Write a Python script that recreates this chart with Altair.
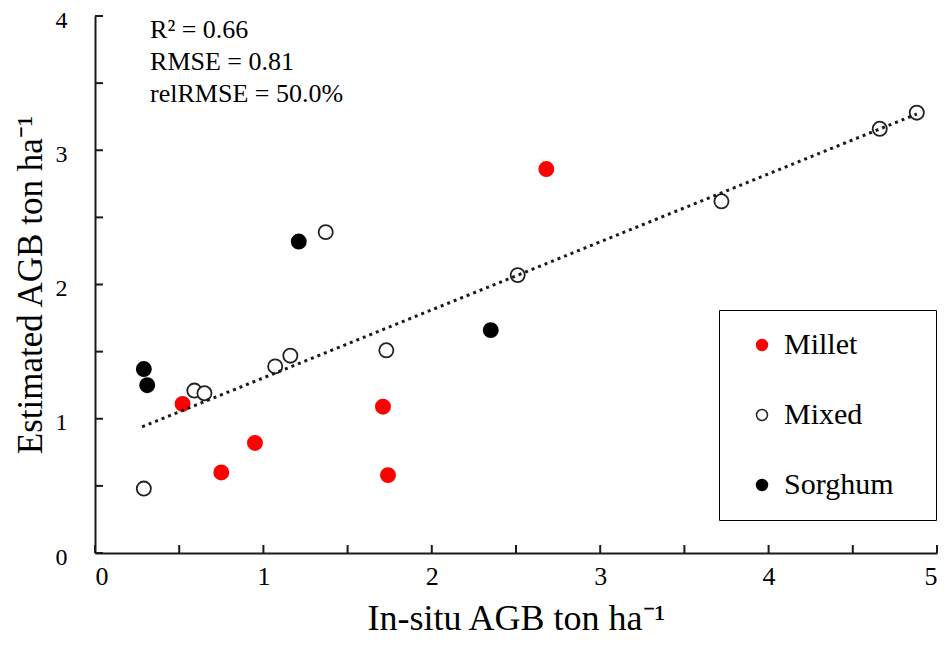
import altair as alt
import pandas as pd

# ---- data ----
categories = ["Millet", "Mixed", "Sorghum"]
millet_x = [0.52, 0.75, 0.95, 1.71, 1.74, 2.68]
millet_y = [1.11, 0.60, 0.82, 1.09, 0.58, 2.86]
mixed_x = [0.29, 0.59, 0.65, 1.07, 1.16, 1.73, 1.37, 2.51, 3.72, 4.66, 4.88]
mixed_y = [0.48, 1.21, 1.19, 1.39, 1.47, 1.51, 2.39, 2.07, 2.62, 3.16, 3.28]
sorghum_x = [0.29, 0.31, 1.21, 2.35]
sorghum_y = [1.37, 1.25, 2.32, 1.66]
trend_x = [0.28, 4.88]
trend_y = [0.94, 3.27]
x_tick_values = [0, 0.5, 1, 1.5, 2, 2.5, 3, 3.5, 4, 4.5, 5]
y_tick_values = [0, 0.5, 1, 1.5, 2, 2.5, 3, 3.5, 4]
x_label_values = [0, 1, 2, 3, 4, 5]
y_label_values = [0, 1, 2, 3, 4]
stats_lines = ["R\u00b2 = 0.66", "RMSE = 0.81", "relRMSE = 50.0%"]
stats_pos_x = [0.327]
stats_pos_y = [3.99]
fill_colors = ["#ff0000", "#ffffff", "#000000"]
stroke_colors = ["#ff0000", "#222222", "#000000"]

FONT = "Liberation Serif"
W, H = 842, 537

rows = []
for name, xs, ys in [("Millet", millet_x, millet_y), ("Mixed", mixed_x, mixed_y),
                     ("Sorghum", sorghum_x, sorghum_y)]:
    for a, b in zip(xs, ys):
        rows.append({"insitu": a, "est": b, "type": name})
pts = pd.DataFrame(rows)
trend = pd.DataFrame({"insitu": trend_x, "est": trend_y})
xt = pd.DataFrame({"t": x_tick_values})
yt = pd.DataFrame({"t": y_tick_values})
stats = pd.DataFrame({"insitu": stats_pos_x, "est": stats_pos_y, "txt": ["\n".join(stats_lines)]})

xscale = alt.Scale(domain=[0, 5], nice=False, zero=False)
yscale = alt.Scale(domain=[0, 4], nice=False, zero=False)

xaxis = alt.Axis(values=x_label_values, format="d", ticks=False, grid=False,
                 domainColor="#1a1a1a", domainWidth=2,
                 labelFont=FONT, labelFontSize=26, labelColor="black", labelPadding=10,
                 title="In-situ AGB ton ha\u207b\u00b9", titleFont=FONT, titleFontSize=36,
                 titleFontWeight="normal", titleColor="black", titlePadding=12)
yaxis = alt.Axis(values=y_label_values, format="d", ticks=False, grid=False,
                 domainColor="#1a1a1a", domainWidth=2,
                 labelFont=FONT, labelFontSize=24, labelColor="black", labelPadding=28,
                 labelOffset=4,
                 title="Estimated AGB ton ha\u207b\u00b9", titleFont=FONT, titleFontSize=35,
                 titleFontWeight="normal", titleColor="black", titlePadding=7)

legend = alt.Legend(title=None, orient="none", legendX=624, legendY=294,
                    strokeColor="black", padding=20, rowPadding=40,
                    symbolOffset=8, labelOffset=7, symbolSize=120, symbolStrokeWidth=1.5,
                    symbolType="circle", labelLimit=400,
                    labelFont=FONT, labelFontSize=30, labelColor="black",
                    labelExpr="datum.label + '\u2800'")

points = alt.Chart(pts).mark_point(shape="circle", size=200, strokeWidth=1.8,
                                   opacity=1, fillOpacity=1).encode(
    x=alt.X("insitu:Q", scale=xscale, axis=xaxis),
    y=alt.Y("est:Q", scale=yscale, axis=yaxis),
    fill=alt.Fill("type:N", scale=alt.Scale(domain=categories, range=fill_colors), legend=legend),
    stroke=alt.Stroke("type:N", scale=alt.Scale(domain=categories, range=stroke_colors), legend=legend),
)

line = alt.Chart(trend).mark_line(color="#1a1a1a", strokeWidth=3, strokeDash=[3, 4]).encode(
    x=alt.X("insitu:Q", scale=xscale),
    y=alt.Y("est:Q", scale=yscale),
)

xticks = alt.Chart(xt).mark_rule(color="#1a1a1a", strokeWidth=2).encode(
    x=alt.X("t:Q", scale=xscale), y=alt.value(H), y2=alt.value(H - 8))
yticks = alt.Chart(yt).mark_rule(color="#1a1a1a", strokeWidth=2).encode(
    y=alt.Y("t:Q", scale=yscale), x=alt.value(0), x2=alt.value(8))

text = alt.Chart(stats).mark_text(font=FONT, fontSize=26, align="left", baseline="top",
                                  lineBreak="\n", lineHeight=32, color="black").encode(
    x=alt.X("insitu:Q", scale=xscale),
    y=alt.Y("est:Q", scale=yscale),
    text="txt:N",
)

chart = alt.layer(points, line, xticks, yticks, text).properties(
    width=W, height=H,
    autosize=alt.AutoSizeParams(type="none"),
    padding={"left": 87, "top": 8, "right": 5, "bottom": 100},
).configure(background="white", font=FONT).configure_view(stroke=None).configure_text(
    font=FONT).configure_legend(labelFont=FONT)

chart.save("out.html", embed_options={"renderer": "svg", "actions": False})
